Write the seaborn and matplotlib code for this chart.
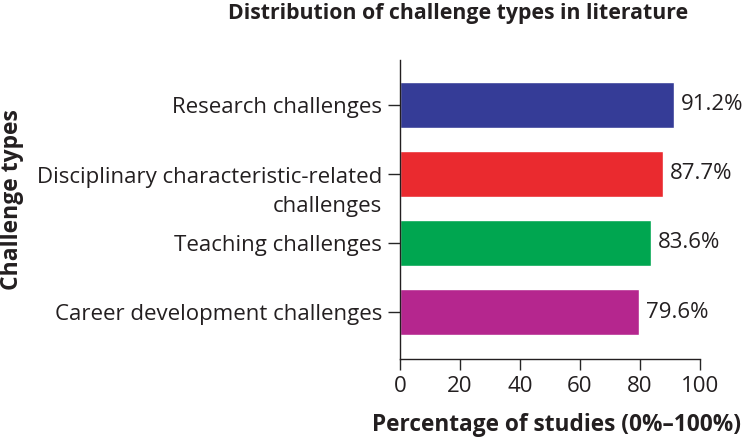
import matplotlib
matplotlib.use("Agg")
import matplotlib.pyplot as plt
import matplotlib.transforms as mtransforms
import seaborn as sns
import pandas as pd

categories = [
    "Research challenges",
    "Disciplinary characteristic-related\nchallenges",
    "Teaching challenges",
    "Career development challenges",
]
values = [91.2, 87.7, 83.6, 79.6]
colors = ["#353C97", "#EA2A2F", "#00A650", "#B5268E"]
xticks = [0, 20, 40, 60, 80, 100]

sns.set_style("white")
plt.rcParams["font.family"] = ["Open Sans", "DejaVu Sans"]

df = pd.DataFrame({"category": categories, "value": values})

fig = plt.figure(figsize=(7.44, 4.4), dpi=100)
ax = fig.add_axes([400 / 744, 81 / 440, 300 / 744, 299 / 440])

sns.barplot(data=df, x="value", y="category", hue="category", palette=colors,
            orient="h", width=0.67, legend=False, ax=ax, saturation=1)

for p, v in zip(ax.patches, values):
    ax.text(p.get_width() + 2.3, p.get_y() + p.get_height() / 2, f"{v}%",
            va="center", ha="left", fontsize=16, color="#231F20")

ax.set_xlim(0, 100)
ax.set_ylim(3.68, -0.65)
ax.set_xticks(xticks)
ax.set_xticklabels([str(t) for t in xticks], fontsize=16, color="#231F20")
ax.tick_params(axis="y", labelsize=16, labelcolor="#231F20", length=9, width=1, left=True, pad=4)
ax.tick_params(axis="x", length=8, width=1, bottom=True, pad=4)

sns.despine(ax=ax)
for s in ["left", "bottom"]:
    ax.spines[s].set_color("#231F20")
    ax.spines[s].set_linewidth(1)

ax.set_xlabel("")
ax.set_ylabel("")
fig.text(557 / 744, 1 - 425 / 440, "Percentage of studies (0%–100%)", ha="center", va="center",
         fontsize=16.3, fontweight="bold", color="#231F20")
fig.text(12 / 744, 1 - 200 / 440, "Challenge types", ha="center", va="center", rotation=90,
         fontsize=16.5, fontweight="bold", color="#231F20")
fig.text(458 / 744, 1 - 13 / 440, "Distribution of challenge types in literature", ha="center",
         va="center", fontsize=15.3, fontweight="bold", color="#231F20")

# the two-line label sits with its first line at the tick
for lbl in ax.get_yticklabels():
    lbl.set_multialignment("right")
    if "\n" in lbl.get_text():
        lbl.set_linespacing(1.5)
        lbl.set_transform(lbl.get_transform() +
                          mtransforms.ScaledTranslation(0, -12 / 100, fig.dpi_scale_trans))

fig.savefig("out.png", dpi=100)
